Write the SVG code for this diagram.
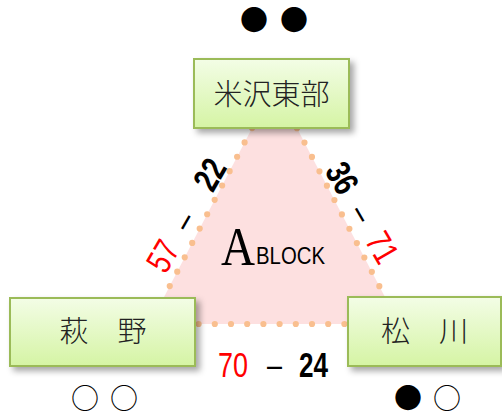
<svg xmlns="http://www.w3.org/2000/svg" width="502" height="417" viewBox="0 0 502 417">
<defs>
<linearGradient id="boxg" x1="0" y1="0" x2="0" y2="1">
<stop offset="0" stop-color="#F3FDE6"/>
<stop offset="1" stop-color="#D5F4A4"/>
</linearGradient>
<filter id="sh" x="-10%" y="-10%" width="130%" height="140%">
<feDropShadow dx="4" dy="4" stdDeviation="3" flood-color="#000" flood-opacity="0.35"/>
</filter>
</defs>
<style>
.box{fill:url(#boxg);stroke:#9BBB59;stroke-width:2}
.jp{font-family:"Noto Sans CJK JP","Noto Sans CJK SC",sans-serif;font-size:29px;font-weight:300;fill:#222;text-anchor:middle}
.mk{font-family:"Noto Sans CJK JP","DejaVu Sans",sans-serif;font-size:28px;fill:#000;text-anchor:middle}
.num{font-family:"Liberation Sans",Arial,sans-serif;font-size:35px}
.red{fill:#FF0000}
.blk{fill:#000;font-weight:bold}
</style>
<g id="triangle">
<path d="M274.5 85 L399 324 L150 324 Z" fill="#FDE0E0"/>
<path d="M150 324 L399 324 L274.5 85 Z" fill="none" stroke="#F9BF8F" stroke-width="6.2" stroke-linecap="round" stroke-dasharray="0 16.2"/>
</g>
<g id="connectors">
<g transform="translate(186 215) rotate(-60)">
<text class="num red" x="-62" y="12.5" textLength="30" lengthAdjust="spacingAndGlyphs">57</text>
<text class="num" x="-14" y="12.5" textLength="15" lengthAdjust="spacingAndGlyphs">–</text>
<text class="num blk" x="32" y="12.5" textLength="30" lengthAdjust="spacingAndGlyphs">22</text>
</g>
<g transform="translate(362.5 212.5) rotate(60)">
<text class="num blk" x="-55" y="12.5" textLength="30" lengthAdjust="spacingAndGlyphs">36</text>
<text class="num" x="-7" y="12.5" textLength="15" lengthAdjust="spacingAndGlyphs">–</text>
<text class="num red" x="25" y="12.5" textLength="30" lengthAdjust="spacingAndGlyphs">71</text>
</g>
<text class="num red" x="218" y="377" textLength="30" lengthAdjust="spacingAndGlyphs">70</text>
<text class="num" x="267" y="377" textLength="15" lengthAdjust="spacingAndGlyphs">–</text>
<text class="num blk" x="299" y="377" textLength="29" lengthAdjust="spacingAndGlyphs">24</text>
</g>
<g id="label">
<text x="221" y="265" font-family="Liberation Serif,serif" font-size="54" textLength="34" lengthAdjust="spacingAndGlyphs">A</text>
<text x="256" y="264" font-family="Liberation Sans,sans-serif" font-size="24" textLength="69" lengthAdjust="spacingAndGlyphs">BLOCK</text>
</g>
<g id="node-yonezawa">
<rect class="box" x="194" y="59" width="155" height="69" filter="url(#sh)"/>
<text class="jp" x="271.5" y="105">米沢東部</text>
<text class="mk" x="254 274 294" y="31">● ●</text>
</g>
<g id="node-hagi">
<rect class="box" x="10" y="298" width="185" height="68" filter="url(#sh)"/>
<text class="jp" x="103" y="342">萩　野</text>
<text class="mk" x="85 104.5 124" y="409">○ ○</text>
</g>
<g id="node-matsukawa">
<rect class="box" x="348" y="297" width="153" height="69" filter="url(#sh)"/>
<text class="jp" x="424.5" y="342">松　川</text>
<text class="mk" x="408 427.5 447" y="409">● ○</text>
</g>
</svg>
